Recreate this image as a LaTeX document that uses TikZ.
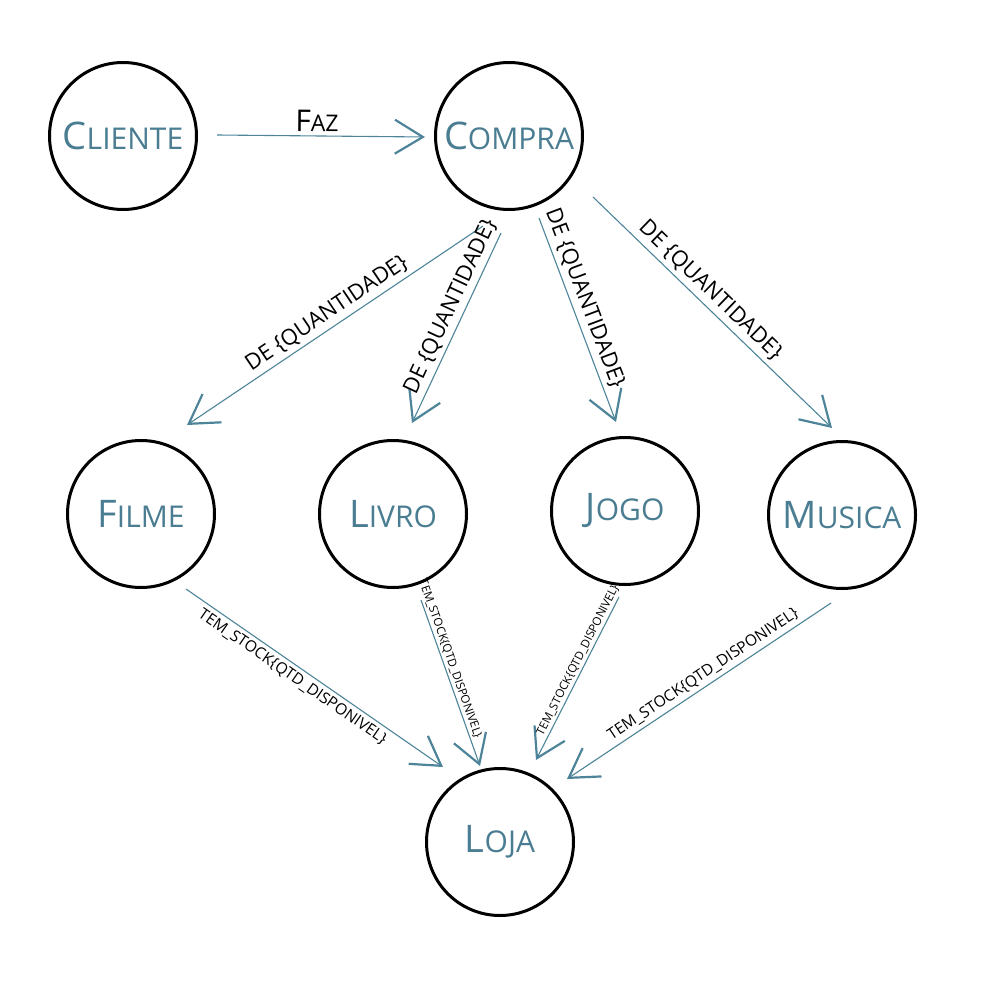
\documentclass[tikz,border=0pt]{standalone}
\usepackage{fontspec}
\setmainfont{Open Sans}
\usetikzlibrary{arrows.meta}
\definecolor{nodeteal}{RGB}{74,125,145}
\definecolor{arrteal}{RGB}{77,132,153}
\newcommand\nodesc[2]{{\fontsize{19pt}{19pt}\selectfont #1}{\fontsize{15pt}{15pt}\selectfont #2}}
\newcommand\fazlab{{\fontsize{15pt}{15pt}\selectfont F}{\fontsize{11.5pt}{11.5pt}\selectfont AZ}}
\newcommand\qlab{\fontsize{11pt}{11pt}\selectfont DE \{QUANTIDADE\}}
\newcommand\stlab[1]{\fontsize{#1}{#1}\selectfont TEM\_STOCK\{QTD\_DISPONIVEL\}}
\begin{document}
\begin{tikzpicture}[x=0.5pt,y=-0.5pt,
  ent/.style={circle,draw=black,line width=1.5pt,minimum size=73.5pt,inner sep=0pt,text=nodeteal},
  rel/.style={draw=arrteal,line width=0.55pt,-{Straight Barb[length=14pt,width=17pt,line width=1.1pt]}},
  lbl/.style={text=black,inner sep=2pt,sloped}]
\useasboundingbox (0,0) rectangle (1000,1000);
\node[ent] (cliente) at (123,136) {\nodesc{C}{LIENTE}};
\node[ent] (compra) at (509,136) {\nodesc{C}{OMPRA}};
\node[ent] (filme) at (141,514) {\nodesc{F}{ILME}};
\node[ent] (livro) at (393,514) {\nodesc{L}{IVRO}};
\node[ent] (jogo) at (625,511) {\nodesc{J}{OGO}};
\node[ent] (musica) at (842,515) {\nodesc{M}{USICA}};
\node[ent] (loja) at (500,842) {\nodesc{L}{OJA}};

\draw[rel] ([shift={(94,-1)}]cliente.center) -- node[lbl,above,pos=0.48]{\fazlab} ([shift={(-84,1)}]compra.center);
\draw[rel] ([shift={(-26,90)}]compra.center) -- node[lbl,above,pos=0.5]{\qlab} ([shift={(46,-89)}]filme.center);
\draw[rel] ([shift={(-8,97)}]compra.center) -- node[lbl,above,pos=0.42]{\qlab} ([shift={(19,-91)}]livro.center);
\draw[rel] ([shift={(30,82)}]compra.center) -- node[lbl,above,pos=0.42]{\qlab} ([shift={(-9,-89)}]jogo.center);
\draw[rel] ([shift={(84,61)}]compra.center) -- node[lbl,above,pos=0.45]{\qlab} ([shift={(-10,-87)}]musica.center);

\draw[rel] ([shift={(45,75)}]filme.center) -- node[lbl,below,pos=0.44]{\stlab{7.8pt}} ([shift={(-57,-75)}]loja.center);
\draw[rel] ([shift={(28,86)}]livro.center) -- node[lbl,above,pos=0.37,inner sep=1pt]{\stlab{5.8pt}} ([shift={(-20,-76)}]loja.center);
\draw[rel] ([shift={(-6,86)}]jogo.center) -- node[lbl,above,pos=0.41,inner sep=1pt]{\stlab{5.8pt}} ([shift={(36,-82)}]loja.center);
\draw[rel] ([shift={(-11,88)}]musica.center) -- node[lbl,above,pos=0.46]{\stlab{7.8pt}} ([shift={(67,-63)}]loja.center);
\end{tikzpicture}
\end{document}
